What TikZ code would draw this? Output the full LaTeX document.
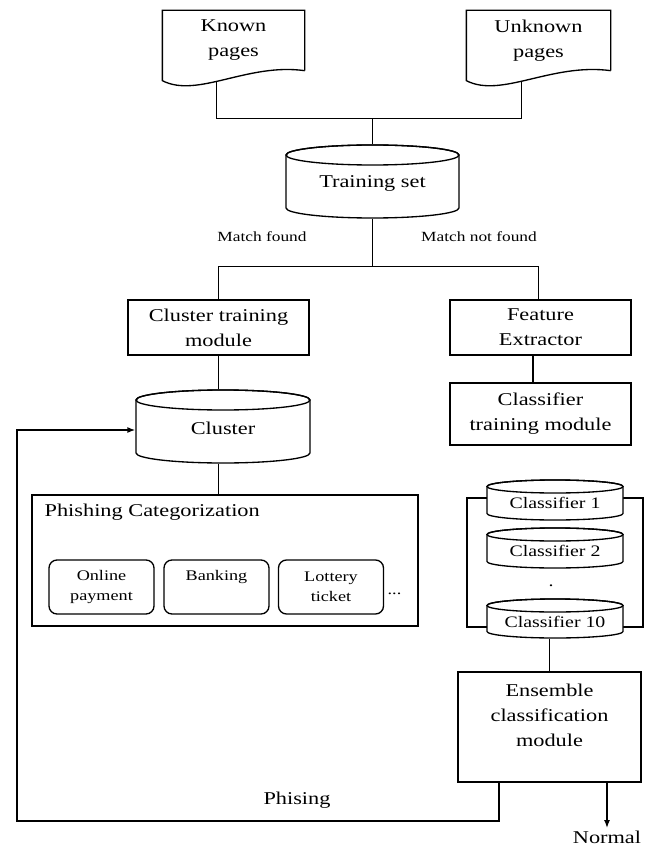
\documentclass[tikz,border=0pt]{standalone}
\usepackage{fontspec}
\setmainfont{Liberation Serif}[FakeStretch=1.24]
\usetikzlibrary{arrows.meta,calc}
\newcommand\bigf{\fontsize{13.5}{18.75}\selectfont}
\newcommand\midf{\fontsize{12}{15}\selectfont}
\newcommand\smallf{\fontsize{11}{15}\selectfont}
\newcommand\tinyf{\fontsize{10.5}{13}\selectfont}
% cylinder: #1 name, #2 x1, #3 x2, #4 ytop, #5 ybot, #6 ry, #7 text, #8 text y
\newcommand\cylnode[8]{%
  \filldraw[fill=white] ({#2},{#4+#6}) -- ({#2},{#5-#6})
    arc[start angle=180,end angle=0,x radius={(#3-#2)/2},y radius=#6]
    -- ({#3},{#4+#6})
    arc[start angle=0,end angle=-180,x radius={(#3-#2)/2},y radius=#6] -- cycle;
  \draw ({(#2+#3)/2},{#4+#6}) ellipse[x radius={(#3-#2)/2},y radius=#6];
  \node[cylbox, minimum width={(#3-#2)*0.75pt}, minimum height={(#5-#4)*0.75pt}] (#1) at ({(#2+#3)/2},{(#4+#5)/2}) {};
  \node[cyltext] (#1-text) at ({(#2+#3)/2},{#8}) {#7};}
\tikzset{
  box/.style={draw, line width=1pt, inner sep=0pt, align=center, font=\bigf},
  docbox/.style={inner sep=0pt, align=center, font=\bigf},
  cylbox/.style={inner sep=0pt},
  cyltext/.style={inner sep=0pt, align=center, font=\bigf},
  rbox/.style={draw, line width=1pt, rounded corners=6pt, inner sep=0pt, align=center, font=\smallf,
    minimum width={105*0.75pt}, minimum height={54*0.75pt}},
  lbl/.style={inner sep=0pt, font=\tinyf},
  conn/.style={line width=1pt},
  arr/.style={line width=1pt, -{Latex[length=6pt,width=4.5pt]}}
}
\begin{document}
\begin{tikzpicture}[x=0.75pt,y=-0.75pt,line width=1pt]
\useasboundingbox (0,0) rectangle (650,848);

% document shapes
\node[docbox, minimum width={141*0.75pt}, minimum height={59*0.75pt}] (known) at (233.5,40.5) {Known\\pages};
\node[docbox, minimum width={143*0.75pt}, minimum height={59*0.75pt}] (unknown) at (538.5,40.5) {Unknown\\pages};
\foreach \n in {known,unknown}{
  \draw (\n.south east) -- (\n.north east) -- (\n.north west) -- ($(\n.south west)+(0,10)$)
    .. controls ($(\n.south west)+(35,28)$) and ($(\n.south west)+(85,-8)$) .. (\n.south east);
}
\coordinate (kb) at ($(known.south west)+(54,11)$);
\coordinate (ub) at ($(unknown.south west)+(55,11)$);

% training set
\cylnode{train}{286}{459}{145}{218}{10}{Training set}{183}
\coordinate (join) at ($(train.north)+(0,-26)$);
\draw[conn] (kb) |- (join) -| (ub);
\draw[conn] (join) -- (train.north);

\node[lbl] (mf) at (262,237) {Match found};
\node[lbl] (mnf) at (479,237) {Match not found};

% modules
\node[box, minimum width={181*0.75pt}, minimum height={55*0.75pt}] (ctm) at (218.5,327.5) {Cluster training\\module};
\node[box, minimum width={181*0.75pt}, minimum height={55*0.75pt}] (fe) at (540.5,327.5) {Feature\\Extractor};
\node[box, minimum width={181*0.75pt}, minimum height={62*0.75pt}] (ctr) at (540.5,414) {Classifier\\training module};

\coordinate (split) at ($(train.south)+(0,48)$);
\draw[conn] (train.south) -- (split);
\draw[conn] (ctm.north) |- (split) -| ($(fe.north)+(-2,0)$);
\draw[conn] ($(fe.south)+(-7.5,0)$) -- ($(ctr.north)+(-7.5,0)$);

% cluster
\cylnode{cluster}{136}{310}{390}{463}{10}{Cluster}{428}
\draw[conn] (ctm.south) -- (ctm.south |- cluster.north);

% phishing categorization
\node[draw, line width=1pt, minimum width={386*0.75pt}, minimum height={131*0.75pt}, inner sep=0pt] (pc) at (225,560.5) {};
\draw[conn] (ctm.south |- cluster.south) -- (ctm.south |- pc.north);
\node[anchor=west, inner sep=0pt, font=\bigf] (pct) at (44,512) {Phishing Categorization};
\node[rbox] (online) at (101.5,587) {Online\\payment};
\node[rbox] (bank) at (216.5,587) {Banking\\\phantom{p}};
\node[rbox] (lottery) at (331,587) {Lottery\\ticket};
\node[inner sep=0pt, font=\smallf, anchor=west] (dots) at (387,594) {...};

% classifiers
\node[draw, line width=1pt, minimum width={176*0.75pt}, minimum height={129*0.75pt}, inner sep=0pt] (encl) at (555,562.5) {};
\cylnode{c1}{487}{623}{480}{520}{6.5}{\midf Classifier 1}{503}
\cylnode{c2}{487}{623}{528}{568}{6.5}{\midf Classifier 2}{551}
\cylnode{c10}{487}{623}{599}{638}{6.5}{\midf Classifier 10}{622}
\node[inner sep=0pt, font=\midf] (vd) at (551,586) {.};
\draw[conn] ($(ctr.south)+(7.5,0)$) -- ($(ctr.south)+(7.5,0)$ |- c1.north);

% ensemble
\node[box, minimum width={183*0.75pt}, minimum height={110*0.75pt}] (ens) at (549.5,727) {};
\node[inner sep=0pt, align=center, font=\bigf] (enstext) at (549.5,715) {Ensemble\\classification\\module};
\draw[conn] (c10.south -| ens.north) -- (ens.north);

% outputs
\node[inner sep=0pt, font=\bigf] (phl) at (297,800) {Phising};
\node[inner sep=0pt, font=\bigf] (normal) at (607,837) {Normal};
\coordinate (lp) at (17,821);
\draw[arr] ($(ens.south)+(-50.5,0)$) |- (lp) |- ($(cluster.west)+(0,3.5)$);
\draw[arr] (ens.south -| normal.north) -- ($(normal.north)+(0,-2)$);
\end{tikzpicture}
\end{document}
